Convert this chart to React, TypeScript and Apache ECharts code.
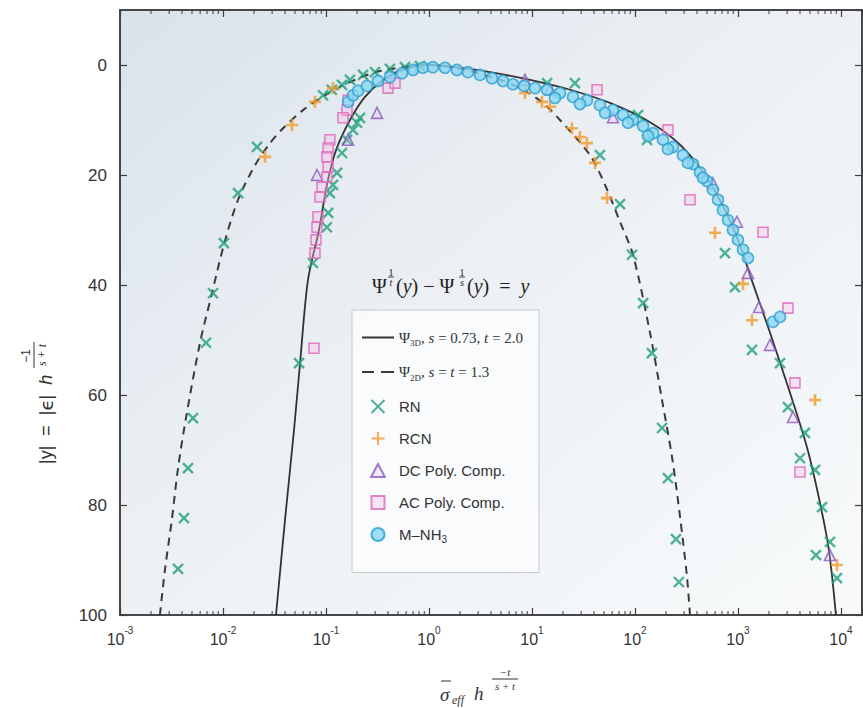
import React, { useEffect, useRef } from 'react';
import * as echarts from 'echarts';

// ---------- axis ranges / ticks ----------
const X_MIN = 0.001;
const X_MAX = 16000;
const Y_MIN = -10;
const Y_MAX = 100;
const minorMultipliers = [2, 3, 4, 5, 6, 7, 8, 9];
const minorDecades = [0.001, 0.01, 0.1, 1, 10, 100, 1000];

// ---------- model curves ----------
const psi3D: [number, number][] = [
  [0.0327, 100], [0.040, 82.7], [0.0489, 66.4], [0.056, 54.2], [0.0668, 39.1], [0.0855, 30.0],
  [0.102, 21.8], [0.125, 15.5], [0.171, 10.0], [0.239, 5.8], [0.35, 2.9], [0.547, 0.9], [1, 0],
  [1.79, 0.4], [3.91, 1.3], [9.57, 2.7], [23.4, 4.5], [57.1, 6.9], [140, 10.4], [274, 14.5],
  [478, 20.0], [748, 26.4], [1045, 32.7], [1309, 38.2], [1956, 47.6], [3199, 59.6], [4677, 69.5],
  [6252, 79.6], [7638, 88.2], [8933, 100],
];
const psi2D: [number, number][] = [
  [0.00244, 100], [0.00274, 91.6], [0.0032, 82.4], [0.00366, 73.3], [0.00437, 64.2], [0.00598, 50.5],
  [0.00782, 41.5], [0.0102, 32.7], [0.014, 24.5], [0.0205, 18.2], [0.0286, 14.2], [0.0383, 11.5],
  [0.0598, 8.2], [0.0977, 5.5], [0.171, 3.1], [0.334, 1.1], [1, 0], [1.79, 0.5], [4.38, 2.4],
  [7.64, 4.2], [12.8, 6.9], [18.7, 10.0], [36.6, 16.4], [51.2, 21.8], [71.5, 28.5], [95.6, 34.5],
  [140, 48.7], [183, 60.9], [229, 71.3], [274, 82.2], [320, 93.1], [342, 100],
];

// ---------- measured data ----------
const rnData: [number, number][] = [
  [0.00366, 91.6], [0.00418, 82.4], [0.00457, 73.3], [0.00511, 64.2], [0.00684, 50.5], [0.008, 41.5],
  [0.0102, 32.4], [0.014, 23.3], [0.0214, 14.9],
  [0.0935, 5.5], [0.114, 4.5], [0.143, 3.6], [0.171, 2.7], [0.229, 1.8], [0.299, 1.3], [0.418, 0.7],
  [0.585, 0.4], [0.818, 0.2],
  [0.0547, 54.2], [0.0748, 36.0], [0.102, 29.5], [0.105, 26.9], [0.109, 23.3], [0.117, 21.8],
  [0.128, 19.6], [0.143, 16.0], [0.16, 13.6], [0.183, 11.8], [0.2, 10.5], [0.214, 9.6],
  [14.0, 3.3], [26.1, 3.3], [45.7, 16.4], [71.5, 25.3], [93.5, 34.5], [120, 43.3], [146, 52.4],
  [183, 66.0], [209, 75.1], [250, 86.2], [267, 94.0],
  [107, 9.1], [131, 13.6], [748, 34.2], [935, 40.4], [1368, 51.8], [2559, 54.2], [3055, 62.2],
  [4467, 66.9], [4000, 71.5], [5598, 73.6], [6546, 80.4], [7816, 86.7], [5715, 89.1], [9140, 93.3],
];
const rcnData: [number, number][] = [
  [0.0256, 16.7], [0.0468, 10.9], [0.0782, 6.7], [0.117, 4.2], [8.55, 5.1], [12.5, 6.7], [15.0, 7.6],
  [24.4, 11.5], [29.2, 13.1], [34.2, 14.2], [40.9, 17.8], [53.5, 24.2], [598, 30.5], [1119, 39.8],
  [1368, 46.4], [5598, 60.9], [9140, 90.9],
];
const dcData: [number, number][] = [
  [0.0818, 20.0], [0.164, 13.6], [0.313, 8.7], [8.55, 2.7], [15.0, 4.4], [61.1, 9.5], [571, 21.5],
  [977, 28.5], [1250, 37.8], [1600, 44.0], [2046, 50.9], [3420, 64.0], [7816, 89.1],
];
const acData: [number, number][] = [
  [0.164, 6.4], [0.16, 8.2], [0.146, 9.6], [0.109, 13.6], [0.105, 15.1], [0.102, 16.7], [0.105, 18.5],
  [0.102, 20.4], [0.0914, 22.2], [0.0875, 24.0], [0.0836, 27.6], [0.0818, 29.5], [0.08, 31.8],
  [0.0782, 34.2], [0.0764, 51.5], [0.4, 4.2], [0.468, 3.3], [42.8, 4.5], [209, 11.8], [342, 24.5],
  [1750, 30.4], [3055, 44.2], [3573, 57.8], [4000, 74.0],
];
const mnh3Data: [number, number][] = [
  [0.164, 6.7], [0.183, 5.5], [0.205, 4.7], [0.25, 3.8], [0.32, 2.9], [0.418, 2.2], [0.547, 1.5],
  [0.7, 0.9], [0.875, 0.5], [1.09, 0.4], [1.43, 0.5], [1.87, 0.9], [2.39, 1.3], [3.13, 1.8],
  [4.09, 2.4], [5.23, 2.9], [6.54, 3.5], [8.36, 3.8], [10.7, 4.2], [14.0, 4.5], [18.7, 5.1],
  [25.0, 5.8], [34.2, 6.4], [45.7, 7.3], [61.1, 8.2], [76.4, 9.1], [95.6, 10.0], [120, 11.1],
  [150, 12.4], [187, 13.6], [234, 14.9], [292, 16.4], [366, 18.0], [428, 19.5], [500, 21.1],
  [571, 22.7], [640, 24.5], [715, 26.4], [800, 28.2], [893, 30.0], [1000, 31.8], [1119, 33.6],
  [1250, 35.1], [2188, 46.7], [2559, 45.8], [16.7, 6.0], [29.2, 7.1], [51.2, 8.7], [85.5, 10.5],
  [134, 12.9], [209, 15.3], [327, 17.8], [457, 20.5],
];

const NAME_3D = 'Ψ3D, s = 0.73, t = 2.0';
const NAME_2D = 'Ψ2D, s = t = 1.3';

const AXIS = '#3d3d3d';
const TXT = '#333333';
const SANS = 'Liberation Sans, Arial, sans-serif';
const SERIF = 'Liberation Serif, DejaVu Serif, serif';

const crossPath = 'path://M2,2L18,18M18,2L2,18';
const plusPath = 'path://M10,1L10,19M1,10L19,10';
const solidIcon = 'path://M0,0H32V2H0Z';
const dashedIcon = 'path://M0,0H12V2H0ZM19,0H32V2H19Z';
const triIcon = 'path://M10,1L19,18L1,18Z';
const rectIcon = 'path://M1,1L19,1L19,19L1,19Z';

const legendItems = [
  { name: NAME_3D, icon: solidIcon },
  { name: NAME_2D, icon: dashedIcon },
  { name: 'RN', icon: crossPath },
  { name: 'RCN', icon: plusPath },
  { name: 'DC Poly. Comp.', icon: triIcon },
  { name: 'AC Poly. Comp.', icon: rectIcon },
  { name: 'M–NH3', icon: 'circle' },
];

const minorTicks = minorDecades.flatMap((d) => minorMultipliers.map((m) => [m * d, 0]));

function legendFormatter(name: string): string {
  if (name === NAME_3D) return '{g|Ψ}{sub|3D}{g|, }{i|s}{g| = 0.73, }{i|t}{g| = 2.0}';
  if (name === NAME_2D) return '{g|Ψ}{sub|2D}{g|, }{i|s}{g| = }{i|t}{g| = 1.3}';
  if (name === 'M–NH3') return '{n|M–NH}{sub2|3}';
  return '{n|' + name + '}';
}

function xLabel(v: number): string {
  const e = Math.log10(v);
  const r = Math.round(e);
  if (Math.abs(e - r) > 1e-6) return '';
  return '{b|10}{s|' + r + '}';
}

function buildOption(): any {
  return {
    animation: false,
    backgroundColor: '#ffffff',
    grid: {
      left: 120, right: 1, top: 10, bottom: 93,
      show: true,
      containLabel: false,
      outerBoundsMode: 'none',
      borderColor: AXIS, borderWidth: 1.5,
      backgroundColor: {
        type: 'linear', x: 0, y: 0, x2: 1, y2: 1,
        colorStops: [
          { offset: 0, color: '#d9e3eb' },
          { offset: 0.45, color: '#ecf0f4' },
          { offset: 1, color: '#f8fafb' },
        ],
      },
    },
    xAxis: [
      {
        type: 'log', logBase: 10, min: X_MIN, max: X_MAX, position: 'bottom',
        axisLine: { show: true, onZero: false, lineStyle: { color: AXIS, width: 1.5 } },
        axisTick: { show: true, inside: true, length: 7, lineStyle: { color: AXIS, width: 1.2 } },
        minorTick: { show: false },
        splitLine: { show: false },
        axisLabel: {
          margin: 10, formatter: xLabel, color: TXT,
          rich: {
            b: { fontSize: 16, fontFamily: SANS, color: TXT, lineHeight: 22, verticalAlign: 'bottom' },
            s: { fontSize: 10, fontFamily: SANS, color: TXT, lineHeight: 12, verticalAlign: 'top' },
          },
        },
      },
      {
        type: 'log', logBase: 10, min: X_MIN, max: X_MAX, position: 'top',
        axisLine: { show: true, onZero: false, lineStyle: { color: AXIS, width: 1.5 } },
        axisTick: { show: true, inside: true, length: 7, lineStyle: { color: AXIS, width: 1.2 } },
        splitLine: { show: false },
        axisLabel: { show: false },
      },
    ],
    yAxis: [
      {
        type: 'value', min: Y_MIN, max: Y_MAX, inverse: true, splitNumber: 5,
        axisLine: { show: true, onZero: false, lineStyle: { color: AXIS, width: 1.5 } },
        axisTick: { show: true, inside: true, length: 7, lineStyle: { color: AXIS, width: 1.2 } },
        splitLine: { show: false },
        axisLabel: { fontSize: 17, fontFamily: SANS, color: TXT, margin: 13, showMinLabel: false },
      },
      {
        type: 'value', min: Y_MIN, max: Y_MAX, inverse: true, splitNumber: 5, position: 'right',
        axisLine: { show: true, onZero: false, lineStyle: { color: AXIS, width: 1.5 } },
        axisTick: { show: true, inside: true, length: 7, lineStyle: { color: AXIS, width: 1.2 } },
        splitLine: { show: false },
        axisLabel: { show: false },
      },
    ],
    legend: {
      data: legendItems,
      orient: 'vertical',
      left: 352, top: 310,
      padding: [20, 16, 28, 10],
      itemGap: 17, itemWidth: 32, itemHeight: 13,
      symbolKeepAspect: true,
      backgroundColor: 'rgba(251,252,253,0.88)',
      borderColor: '#c9c9c9', borderWidth: 1,
      selectedMode: false,
      formatter: legendFormatter,
      textStyle: {
        color: TXT,
        rich: {
          n: { fontSize: 15, fontFamily: SANS, color: TXT, lineHeight: 20 },
          g: { fontSize: 15, fontFamily: SERIF, color: TXT, lineHeight: 20 },
          i: { fontSize: 15, fontFamily: SERIF, fontStyle: 'italic', color: TXT, lineHeight: 20 },
          sub: { fontSize: 9, fontFamily: SERIF, color: TXT, lineHeight: 12, verticalAlign: 'bottom' },
          sub2: { fontSize: 10, fontFamily: SANS, color: TXT, lineHeight: 12, verticalAlign: 'bottom' },
        },
      },
    },
    graphic: [
      // equation inside the plot
      { type: 'text', x: 372, y: 286, style: { text: 'Ψ', fontSize: 20, fontFamily: SERIF, fill: '#222', verticalAlign: 'middle' } },
      { type: 'text', x: 391, y: 272, style: { text: '1', fontSize: 10, fontFamily: SERIF, fill: '#222', align: 'center', verticalAlign: 'middle' } },
      { type: 'line', shape: { x1: 388, y1: 277, x2: 394, y2: 277 }, style: { stroke: '#222', lineWidth: 0.8 } },
      { type: 'text', x: 391, y: 282, style: { text: 't', fontSize: 10, fontStyle: 'italic', fontFamily: SERIF, fill: '#222', align: 'center', verticalAlign: 'middle' } },
      {
        type: 'text', x: 396, y: 286,
        style: {
          text: '{p|(}{i|y}{p|) − Ψ}', fill: '#222', verticalAlign: 'middle',
          rich: {
            p: { fontSize: 20, fontFamily: SERIF, fill: '#222' },
            i: { fontSize: 20, fontFamily: SERIF, fontStyle: 'italic', fill: '#222' },
          },
        },
      },
      { type: 'text', x: 462, y: 272, style: { text: '1', fontSize: 10, fontFamily: SERIF, fill: '#222', align: 'center', verticalAlign: 'middle' } },
      { type: 'line', shape: { x1: 459, y1: 277, x2: 465, y2: 277 }, style: { stroke: '#222', lineWidth: 0.8 } },
      { type: 'text', x: 462, y: 282, style: { text: 's', fontSize: 10, fontStyle: 'italic', fontFamily: SERIF, fill: '#222', align: 'center', verticalAlign: 'middle' } },
      {
        type: 'text', x: 467, y: 286,
        style: {
          text: '{p|(}{i|y}{p|)  =  }{i|y}', fill: '#222', verticalAlign: 'middle',
          rich: {
            p: { fontSize: 20, fontFamily: SERIF, fill: '#222' },
            i: { fontSize: 20, fontFamily: SERIF, fontStyle: 'italic', fill: '#222' },
          },
        },
      },
      // y-axis title (rotated)
      {
        type: 'group', x: 46, y: 464, rotation: Math.PI / 2,
        children: [
          {
            type: 'text', x: 0, y: 0,
            style: {
              text: '{n||y|  =  |}{e|ϵ}{n||  }{h|h}', verticalAlign: 'middle', align: 'left', fill: TXT,
              rich: {
                n: { fontSize: 18, fontFamily: SANS, fill: TXT },
                e: { fontSize: 18, fontFamily: 'DejaVu Sans', fill: TXT },
                h: { fontSize: 18, fontFamily: SANS, fontStyle: 'italic', fill: TXT },
              },
            },
          },
          { type: 'text', x: 108, y: -20, style: { text: '−1', fontSize: 12, fontFamily: SANS, fill: TXT, align: 'center', verticalAlign: 'middle' } },
          { type: 'line', shape: { x1: 96, y1: -12, x2: 122, y2: -12 }, style: { stroke: TXT, lineWidth: 1 } },
          { type: 'text', x: 109, y: -4, style: { text: 's + t', fontSize: 12, fontStyle: 'italic', fontFamily: SERIF, fill: TXT, align: 'center', verticalAlign: 'middle' } },
        ],
      },
      // x-axis title
      { type: 'text', x: 440, y: 694, style: { text: 'σ', fontSize: 19, fontStyle: 'italic', fontFamily: SERIF, fill: TXT, verticalAlign: 'middle' } },
      { type: 'line', shape: { x1: 441, y1: 681, x2: 451, y2: 681 }, style: { stroke: TXT, lineWidth: 1 } },
      { type: 'text', x: 452, y: 700, style: { text: 'eff', fontSize: 12, fontStyle: 'italic', fontFamily: SERIF, fill: TXT, verticalAlign: 'middle' } },
      { type: 'text', x: 474, y: 693, style: { text: 'h', fontSize: 19, fontStyle: 'italic', fontFamily: SERIF, fill: TXT, verticalAlign: 'middle' } },
      { type: 'text', x: 505, y: 672, style: { text: '−t', fontSize: 11, fontStyle: 'italic', fontFamily: SERIF, fill: TXT, align: 'center', verticalAlign: 'middle' } },
      { type: 'line', shape: { x1: 492, y1: 679, x2: 518, y2: 679 }, style: { stroke: TXT, lineWidth: 1 } },
      { type: 'text', x: 505, y: 686, style: { text: 's + t', fontSize: 11, fontStyle: 'italic', fontFamily: SERIF, fill: TXT, align: 'center', verticalAlign: 'middle' } },
    ],
    series: [
      {
        type: 'custom', name: 'minor ticks', xAxisIndex: 0, yAxisIndex: 0, silent: true, clip: false, z: 6,
        data: minorTicks,
        renderItem: (params: any, api: any) => {
          const cs = params.coordSys;
          const x = api.coord([api.value(0), 0])[0];
          const top = cs.y;
          const bottom = cs.y + cs.height;
          return {
            type: 'group',
            children: [
              { type: 'line', shape: { x1: x, y1: bottom, x2: x, y2: bottom - 4 }, style: { stroke: AXIS, lineWidth: 1 } },
              { type: 'line', shape: { x1: x, y1: top, x2: x, y2: top + 4 }, style: { stroke: AXIS, lineWidth: 1 } },
            ],
          };
        },
      },
      {
        type: 'line', name: NAME_3D, data: psi3D, symbol: 'none', smooth: 0.3,
        lineStyle: { color: '#333', width: 1.8, type: 'solid' }, itemStyle: { color: '#333' }, z: 2,
      },
      {
        type: 'line', name: NAME_2D, data: psi2D, symbol: 'none', smooth: 0.3,
        lineStyle: { color: '#3a3a3a', width: 2, type: [8, 6] }, itemStyle: { color: '#3a3a3a' }, z: 2,
      },
      {
        type: 'scatter', name: 'RN', data: rnData, symbol: crossPath, symbolSize: 10, z: 3,
        itemStyle: { color: '#22a07b', borderColor: '#22a07b', borderWidth: 2.4 },
      },
      {
        type: 'scatter', name: 'RCN', data: rcnData, symbol: plusPath, symbolSize: 12, z: 3,
        itemStyle: { color: '#f39a2b', borderColor: '#f39a2b', borderWidth: 2.6 },
      },
      {
        type: 'scatter', name: 'DC Poly. Comp.', data: dcData, symbol: 'triangle', symbolSize: 11, z: 3,
        itemStyle: { color: 'rgba(214,196,236,0.35)', borderColor: '#8c58c2', borderWidth: 1.6 },
      },
      {
        type: 'scatter', name: 'AC Poly. Comp.', data: acData, symbol: 'rect', symbolSize: 10, z: 3,
        itemStyle: { color: 'rgba(245,190,228,0.45)', borderColor: '#e066bd', borderWidth: 1.6 },
      },
      {
        type: 'scatter', name: 'M–NH3', data: mnh3Data, symbol: 'circle', symbolSize: 11, z: 4,
        itemStyle: { color: '#8ad7f1', borderColor: '#2a9fd2', borderWidth: 1.6 },
      },
    ],
  };
}

export default function App() {
  const ref = useRef<HTMLDivElement>(null);
  useEffect(() => {
    if (!ref.current) return;
    const chart = echarts.init(ref.current, null, { renderer: 'svg' });
    chart.setOption(buildOption());
    return () => chart.dispose();
  }, []);
  return (
    <div
      ref={ref}
      style={{ position: 'absolute', left: 0, top: 0, width: 863, height: 708, background: '#fff' }}
    />
  );
}
